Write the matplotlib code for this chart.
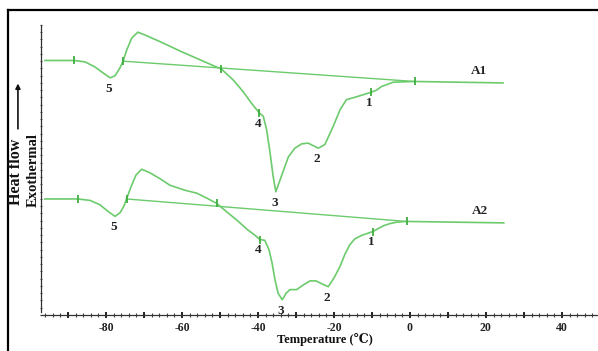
import matplotlib
matplotlib.use("Agg")
import matplotlib.pyplot as plt
import numpy as np
from matplotlib.lines import Line2D
from matplotlib.ticker import MultipleLocator

GREEN = "#6ccb6c"
MARK = "#3fae3f"
SERIF = ["Liberation Serif", "DejaVu Serif"]

plt.rcParams["axes.unicode_minus"] = False
plt.rcParams["font.family"] = SERIF

# A1 run: temperature (C) and heat flow (arbitrary units)
a1_temp = [-96.1, -88.4, -85.5, -82.9, -80.8, -78.9, -77.6, -76.3, -75.5, -74.5,
           -73.2, -71.6, -69.7, -65.8, -60.5, -55.3, -49.6, -46.5, -43.9, -41.7,
           -39.7, -38.6, -37.7, -36.8, -36.0, -35.3, -34.2, -32.0, -30.3, -28.5,
           -26.8, -24.1, -22.4, -20.2, -18.4, -16.7, -14.0, -10.3, -8.8, -7.5,
           -4.4, 1.3, 24.5]
a1_flow = [35.1, 35.1, 34.9, 34.2, 33.4, 32.7, 33.0, 34.1, 35.0, 36.6,
           38.2, 39.0, 38.6, 37.7, 36.4, 35.2, 33.9, 32.4, 30.8, 29.2,
           27.9, 27.4, 25.5, 22.3, 19.1, 17.0, 18.6, 21.8, 23.0, 23.6,
           23.7, 23.0, 23.5, 26.0, 28.3, 29.7, 30.1, 30.7, 31.0, 31.5,
           32.1, 32.2, 32.0]
a1_base_temp = [-75.5, 1.3]
a1_base_flow = [35.0, 32.2]
a1_marks = [-88.4, -75.5, -49.6, -39.7, -10.3, 1.3]

# A2 run
a2_temp = [-96.1, -87.4, -84.2, -81.6, -79.5, -77.6, -76.3, -75.3, -74.6, -73.4,
           -72.1, -70.6, -68.4, -65.8, -63.2, -59.2, -56.1, -53.4, -50.9, -48.4,
           -45.6, -42.6, -40.8, -39.5, -38.2, -37.1, -36.3, -35.5, -34.7, -33.6,
           -32.6, -31.6, -29.8, -28.2, -26.3, -24.7, -23.2, -21.5, -20.0, -18.4,
           -17.1, -15.8, -14.5, -12.6, -9.8, -8.4, -7.0, -5.3, -3.5, -0.9,
           24.7]
a2_flow = [16.0, 16.0, 15.8, 15.2, 14.3, 13.6, 14.1, 15.0, 16.0, 17.7,
           19.3, 20.1, 19.6, 18.8, 17.9, 17.2, 16.8, 16.1, 15.4, 14.3,
           13.1, 11.7, 11.0, 10.4, 10.3, 9.0, 7.2, 4.8, 3.0, 2.1,
           3.0, 3.5, 3.5, 4.1, 4.7, 4.7, 4.3, 3.9, 5.1, 6.7,
           8.4, 9.7, 10.5, 11.0, 11.5, 11.9, 12.3, 12.6, 12.8, 12.9,
           12.7]
a2_base_temp = [-74.6, -0.9]
a2_base_flow = [16.0, 12.9]
a2_marks = [-87.4, -74.6, -50.9, -39.5, -9.8, -0.9]

# numbered events: (label, temperature)
a1_events = [("5", -78.9), ("4", -39.7), ("3", -35.3), ("2", -24.1), ("1", -10.3)]
a2_events = [("5", -77.6), ("4", -39.5), ("3", -33.6), ("2", -21.5), ("1", -9.8)]

fig = plt.figure(figsize=(5.98, 3.51), dpi=100)
ax = fig.add_axes([0.0686, 0.1026, 0.9314, 0.8264])

for temp, flow, btemp, bflow, marks, events, name in [
        (a1_temp, a1_flow, a1_base_temp, a1_base_flow, a1_marks, a1_events, "A1"),
        (a2_temp, a2_flow, a2_base_temp, a2_base_flow, a2_marks, a2_events, "A2")]:
    ax.plot(temp, flow, color=GREEN, lw=1.2, solid_joinstyle="round")
    ax.plot(btemp, bflow, color=GREEN, lw=1.0)
    ax.plot(marks, np.interp(marks, temp, flow), ls="none", marker="|",
            ms=6, mew=1.3, color=MARK)
    for lab, t in events:
        ax.annotate(lab, (t, np.interp(t, temp, flow)), xytext=(-1, -3.5),
                    textcoords="offset points", ha="center", va="top",
                    fontsize=9.5, fontweight="bold", color="#222222")
    ax.annotate(name, (temp[-1], flow[-1]), xytext=(-17, 4),
                textcoords="offset points", ha="center", va="bottom",
                fontsize=9.5, fontweight="bold", color="#222222")

ax.set_xlim(-97.1, 49.5)
ax.set_ylim(0, 40)
ax.spines[["top", "right"]].set_visible(False)
ax.spines["left"].set_bounds(0.4, 40)
for s in ("left", "bottom"):
    ax.spines[s].set_color("#333333")
    ax.spines[s].set_linewidth(0.9)

ax.xaxis.set_major_locator(MultipleLocator(20))
ax.xaxis.set_minor_locator(MultipleLocator(2))
ax.tick_params(axis="x", which="major", length=4, width=1.4, pad=3,
               direction="inout", labelsize=8.5, colors="#222222")
ax.tick_params(axis="x", which="minor", length=2.5, width=0.8,
               direction="inout", colors="#444444")
# unlabelled heavier ticks every 10 degrees
ax.plot(np.arange(-90, 50, 20), np.zeros(7), ls="none", marker="|", ms=4,
        mew=1.4, color="#222222", clip_on=False)
for lbl in ax.get_xticklabels():
    lbl.set_fontweight("bold")
ax.yaxis.set_major_locator(MultipleLocator(1))
ax.set_yticklabels([])
ax.tick_params(axis="y", length=2, width=0.8, direction="inout", colors="#555555")

ax.set_xlabel("Temperature (\u2103)", fontsize=9, fontweight="bold",
              color="#111111", va="center")
ax.xaxis.set_label_coords(0.51, -0.083)

fig.text(0.027, 0.416, "Heat flow", rotation=90, fontsize=11.5, fontweight="bold",
         ha="center", va="bottom", color="#111111")
fig.text(0.0555, 0.516, "Exothermal", rotation=90, fontsize=10.5, fontweight="bold",
         ha="center", va="center", color="#111111")
ax.annotate("", xy=(0.030, 0.77), xytext=(0.030, 0.625), xycoords="figure fraction",
            arrowprops=dict(arrowstyle="-|>", color="#111111", lw=1.2,
                            mutation_scale=7))

fig.add_artist(Line2D([0.014, 0.014], [0.0, 0.972], color="black", lw=1.6))
fig.add_artist(Line2D([0.014, 1.0], [0.972, 0.972], color="black", lw=1.6))

fig.savefig("out.png", dpi=100)
